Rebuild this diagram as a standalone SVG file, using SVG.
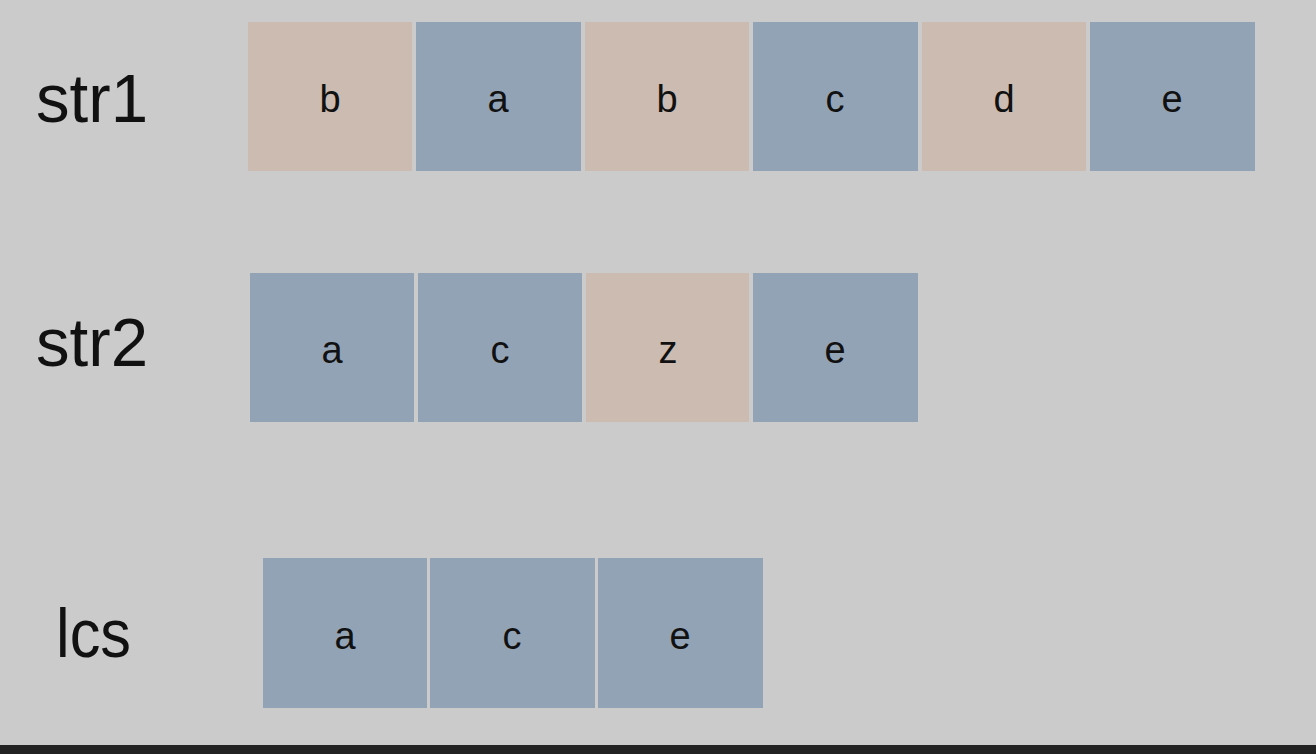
<svg xmlns="http://www.w3.org/2000/svg" width="1316" height="754" viewBox="0 0 1316 754">
<style>
.t{fill:#cbbbb0}
.b{fill:#93a3b6}
.lbl{font-family:"Liberation Sans",Arial,sans-serif;font-size:68px;fill:#111}
.ch{font-family:"Liberation Sans",Arial,sans-serif;font-size:38px;fill:#111;text-anchor:middle}
</style>
<rect x="0" y="0" width="1316" height="754" fill="#cbcbcb"/>
<rect x="0" y="745" width="1316" height="9" fill="#222222"/>
<g id="label-str1"><text class="lbl" x="36" y="122" textLength="112" lengthAdjust="spacingAndGlyphs">str1</text></g>
<g id="label-str2"><text class="lbl" x="36" y="366" textLength="112" lengthAdjust="spacingAndGlyphs">str2</text></g>
<g id="label-lcs"><text class="lbl" x="56" y="657" textLength="75" lengthAdjust="spacingAndGlyphs">lcs</text></g>
<g id="str1">
<g id="s1-0"><rect class="t" x="248" y="22" width="164" height="149"/><text class="ch" x="330" y="112">b</text></g>
<g id="s1-1"><rect class="b" x="416" y="22" width="165" height="149"/><text class="ch" x="498" y="112">a</text></g>
<g id="s1-2"><rect class="t" x="585" y="22" width="164" height="149"/><text class="ch" x="667" y="112">b</text></g>
<g id="s1-3"><rect class="b" x="753" y="22" width="165" height="149"/><text class="ch" x="835" y="112">c</text></g>
<g id="s1-4"><rect class="t" x="922" y="22" width="164" height="149"/><text class="ch" x="1004" y="112">d</text></g>
<g id="s1-5"><rect class="b" x="1090" y="22" width="165" height="149"/><text class="ch" x="1172" y="112">e</text></g>
</g>
<g id="str2">
<g id="s2-0"><rect class="b" x="250" y="273" width="164" height="149"/><text class="ch" x="332" y="363">a</text></g>
<g id="s2-1"><rect class="b" x="418" y="273" width="164" height="149"/><text class="ch" x="500" y="363">c</text></g>
<g id="s2-2"><rect class="t" x="586" y="273" width="163" height="149"/><text class="ch" x="668" y="363">z</text></g>
<g id="s2-3"><rect class="b" x="753" y="273" width="165" height="149"/><text class="ch" x="835" y="363">e</text></g>
</g>
<g id="lcs">
<g id="l-0"><rect class="b" x="263" y="558" width="164" height="150"/><text class="ch" x="345" y="649">a</text></g>
<g id="l-1"><rect class="b" x="430" y="558" width="165" height="150"/><text class="ch" x="512" y="649">c</text></g>
<g id="l-2"><rect class="b" x="598" y="558" width="165" height="150"/><text class="ch" x="680" y="649">e</text></g>
</g>
<g id="connectors"/>
</svg>
